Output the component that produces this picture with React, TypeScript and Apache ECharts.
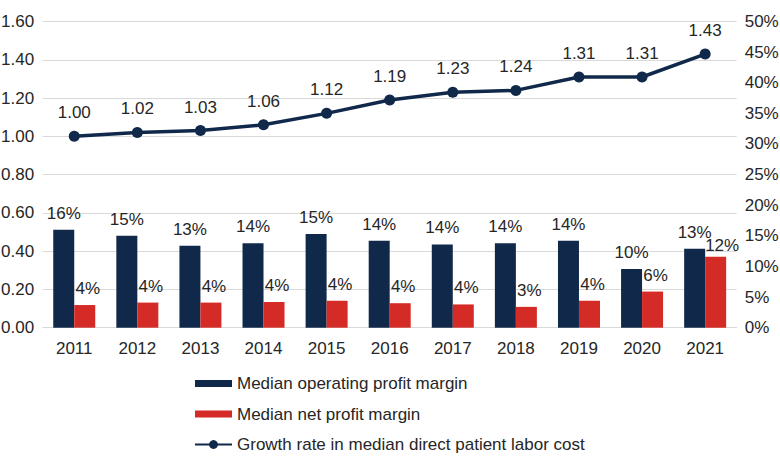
import React, { useEffect, useRef } from "react";
import * as echarts from "echarts";

const years = ["2011", "2012", "2013", "2014", "2015", "2016", "2017", "2018", "2019", "2020", "2021"];
// percent values, right axis
const operatingMargin = [16.0, 15.0, 13.4, 13.8, 15.3, 14.2, 13.6, 13.8, 14.2, 9.6, 12.9];
const netMargin = [3.7, 4.1, 4.1, 4.2, 4.4, 4.0, 3.8, 3.4, 4.4, 5.9, 11.6];
// index values, left axis
const laborCostGrowth = [1.0, 1.02, 1.03, 1.06, 1.12, 1.19, 1.23, 1.24, 1.31, 1.31, 1.43];

const NAVY = "#10294b";
const RED = "#d52b27";
const FONT = "'Liberation Sans', Arial, sans-serif";
const TEXT = "#262626";
const FS = 17;

const App: React.FC = () => {
    const chartRef = useRef<HTMLDivElement>(null);

    useEffect(() => {
        document.body.style.margin = "0";
        if (!chartRef.current) return;
        const chart = echarts.init(chartRef.current, undefined, { renderer: "svg" });

        const last = netMargin.length - 1;
        const barIcon = "path://M0,0H37V7H0Z";

        chart.setOption({
            animation: false,
            textStyle: { fontFamily: FONT },
            grid: {
                left: 42.7,
                right: 43.3,
                top: 21.5,
                bottom: 142.3,
                outerBoundsMode: "none"
            },
            legend: {
                orient: "vertical",
                left: 194,
                top: 375,
                padding: 0,
                itemWidth: 37,
                itemHeight: 11,
                itemGap: 13.5,
                textStyle: { fontSize: FS, color: TEXT, fontFamily: FONT },
                data: [
                    { name: "Median operating profit margin", icon: barIcon },
                    { name: "Median net profit margin", icon: barIcon },
                    { name: "Growth rate in median direct patient labor cost" }
                ]
            },
            xAxis: {
                type: "category",
                data: years,
                axisTick: { show: false },
                axisLine: { lineStyle: { color: "#d9d9d9", width: 1 } },
                axisLabel: { fontSize: FS, color: TEXT, margin: 12 }
            },
            yAxis: [
                {
                    type: "value",
                    min: 0,
                    max: 1.6,
                    interval: 0.2,
                    axisLabel: {
                        fontSize: FS,
                        color: TEXT,
                        margin: 8.5,
                        formatter: (v: number) => v.toFixed(2)
                    },
                    splitLine: { lineStyle: { color: "#d9d9d9", width: 1 } },
                    axisLine: { show: false },
                    axisTick: { show: false }
                },
                {
                    type: "value",
                    min: 0,
                    max: 50,
                    interval: 5,
                    axisLabel: { fontSize: FS, color: TEXT, margin: 8, formatter: "{value}%" },
                    splitLine: { show: false },
                    axisLine: { show: false },
                    axisTick: { show: false }
                }
            ],
            series: [
                {
                    name: "Median operating profit margin",
                    type: "bar",
                    yAxisIndex: 1,
                    data: operatingMargin,
                    barWidth: 21,
                    barGap: "0%",
                    itemStyle: { color: NAVY },
                    label: {
                        show: true,
                        position: "top",
                        distance: 8,
                        fontSize: FS,
                        color: TEXT,
                        formatter: (p: any) => Math.round(p.value) + "%"
                    }
                },
                {
                    name: "Median net profit margin",
                    type: "bar",
                    yAxisIndex: 1,
                    data: netMargin.map((v, i) =>
                        i === last ? { value: v, label: { offset: [6.5, 5] } } : v
                    ),
                    barWidth: 21,
                    itemStyle: { color: RED },
                    label: {
                        show: true,
                        position: "top",
                        distance: 8,
                        offset: [3, 0],
                        fontSize: FS,
                        color: TEXT,
                        formatter: (p: any) => Math.round(p.value) + "%"
                    }
                },
                {
                    name: "Growth rate in median direct patient labor cost",
                    type: "line",
                    yAxisIndex: 0,
                    data: laborCostGrowth,
                    symbol: "circle",
                    symbolSize: 11,
                    lineStyle: { color: NAVY, width: 3.5 },
                    itemStyle: { color: NAVY },
                    label: {
                        show: true,
                        position: "top",
                        distance: 9.5,
                        fontSize: FS,
                        color: TEXT,
                        formatter: (p: any) => p.value.toFixed(2)
                    }
                }
            ]
        });

        return () => {
            chart.dispose();
        };
    }, []);

    return <div ref={chartRef} style={{ width: "780px", height: "470px" }} />;
};

export default App;
